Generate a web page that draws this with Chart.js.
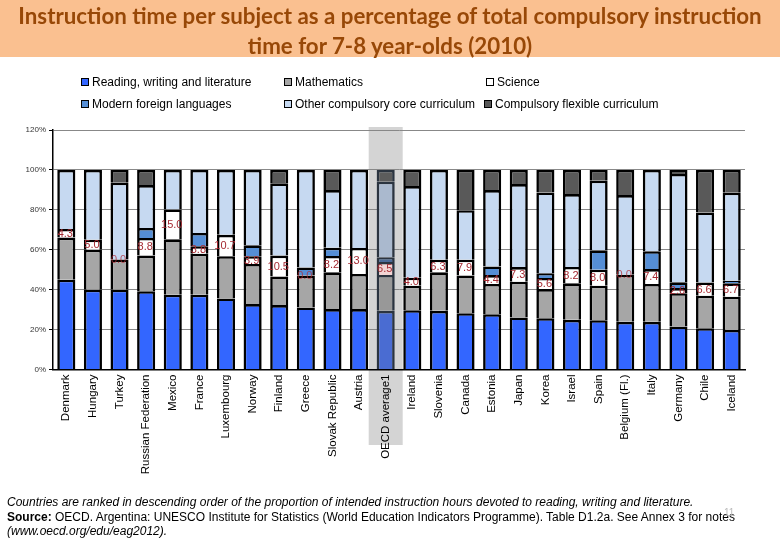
<!DOCTYPE html>
<html><head><meta charset="utf-8">
<script src="https://cdn.jsdelivr.net/npm/chart.js@4"></script>
<style>
html,body{margin:0;padding:0;background:#fff;}
#wrap{position:relative;width:780px;height:540px;overflow:hidden;font-family:"Liberation Sans",Arial,sans-serif;}
#c{position:absolute;left:0;top:0;}
#title{position:absolute;left:0;top:0;width:780px;height:57px;background:#FAC090;color:#984807;font-family:Lato,"Open Sans",sans-serif;font-weight:bold;font-size:22.3px;line-height:30px;text-align:center;}
#title div{white-space:nowrap;}
.lg{position:absolute;font-size:12px;color:#000;white-space:nowrap;line-height:14px;}
.lg span{display:inline-block;width:6px;height:6px;border:1.5px solid #000;margin-right:3px;vertical-align:0px;}
#foot{position:absolute;left:7px;top:495px;font-size:12px;line-height:14.5px;color:#000;white-space:nowrap;}
#pg{position:absolute;left:724px;top:507px;font-size:10px;color:#bbb;}
</style></head>
<body><div id="wrap">
<canvas id="c" width="780" height="540"></canvas>
<div id="title"><div style="padding-top:1px">Instruction time per subject as a percentage of total compulsory instruction</div><div>time for 7-8 year-olds (2010)</div></div>
<div class="lg" style="left:81px;top:75px"><span style="background:#3366FF"></span>Reading, writing and literature</div>
<div class="lg" style="left:284px;top:75px"><span style="background:#A6A6A6"></span>Mathematics</div>
<div class="lg" style="left:486px;top:75px"><span style="background:#FFFFFF"></span>Science</div>
<div class="lg" style="left:81px;top:97px"><span style="background:#558ED5"></span>Modern foreign languages</div>
<div class="lg" style="left:284px;top:97px"><span style="background:#C6D9F1"></span>Other compulsory core curriculum</div>
<div class="lg" style="left:484px;top:97px"><span style="background:#595959"></span>Compulsory flexible curriculum</div>
<div id="foot"><i>Countries are ranked in descending order of the proportion of intended instruction hours devoted to reading, writing and literature.</i><br><b>Source:</b> OECD. Argentina: UNESCO Institute for Statistics (World Education Indicators Programme). Table D1.2a. See Annex 3 for notes<br><i>(www.oecd.org/edu/eag2012).</i></div>
<div id="pg">11</div>
</div>
<script>
const countries = ["Denmark","Hungary","Turkey","Russian Federation","Mexico","France","Luxembourg","Norway","Finland","Greece","Slovak Republic","Austria","OECD average1","Ireland","Slovenia","Canada","Estonia","Japan","Korea","Israel","Spain","Belgium (Fl.)","Italy","Germany","Chile","Iceland"];
const reading   = [45.0,40.0,40.0,39.2,37.5,37.5,35.6,32.8,32.3,31.1,30.3,30.3,29.4,29.7,29.4,28.2,27.7,26.1,25.7,24.9,24.7,23.9,23.9,21.5,20.7,19.8];
const maths     = [21.1,20.0,15.1,17.9,27.7,20.5,21.2,20.1,14.3,16.0,18.4,17.6,18.0,12.3,19.3,18.9,15.2,17.9,14.6,18.3,17.3,23.6,19.0,16.7,16.3,16.7];
const science   = [4.3,5.0,0.0,8.8,15.0,3.8,10.7,3.9,10.5,0.0,8.2,13.0,6.5,4.0,6.3,7.9,4.4,7.3,5.6,8.2,8.0,0.0,7.4,2.6,6.6,6.7];
const languages = [0,0,0,5.0,0,6.6,0,5.4,0,4.0,4.1,0,2.4,0,0,0,4.3,0,2.3,0,9.7,0,9.0,2.9,0,1.3];
const otherCore = [29.6,35.0,38.5,21.5,19.8,31.6,32.5,37.8,36.2,48.9,28.9,39.1,37.8,45.9,45.0,24.8,38.3,41.6,40.5,36.5,34.9,39.9,40.7,54.3,35.1,44.1];
const flexible  = [0,0,6.4,7.6,0,0,0,0,6.7,0,10.1,0,5.9,8.1,0,20.2,10.1,7.1,11.3,12.1,5.4,12.6,0,2.0,21.3,11.4];
const yTicks = [0,20,40,60,80,100,120];

const OECD = countries.indexOf("OECD average1");
function cols(normal, oecd){ return countries.map((c,i)=> i===OECD ? oecd : normal); }
function borders(){ return countries.map((c,i)=> i===OECD ? '#2b3440' : '#000'); }
function ds(label, data, color, oecdColor){
  return {label, data: data.map(v=> v===0 ? null : v), backgroundColor: cols(color, oecdColor), borderColor: borders(), borderWidth: 2.6, borderSkipped:'bottom', barPercentage:0.68, categoryPercentage:1.0};
}

const bandPlugin = {
  id:'band',
  beforeDraw(chart){
    const ctx = chart.ctx;
    ctx.save();
    ctx.fillStyle='#fff'; ctx.fillRect(0,0,chart.width,chart.height);
    const x = chart.scales.x.getPixelForValue(OECD);
    ctx.fillStyle='#D4D4D4';
    ctx.fillRect(x-17,127,34,318);
    ctx.restore();
  }
};
const labelPlugin = {
  id:'sciLabels',
  afterDatasetsDraw(chart){
    const ctx = chart.ctx;
    const ys = chart.scales.y, xs = chart.scales.x;
    ctx.save();
    ctx.font = '11px "Liberation Sans", Arial, sans-serif';
    ctx.textAlign='center'; ctx.textBaseline='middle';
    science.forEach((v,i)=>{
      const base = reading[i]+maths[i];
      const y = ys.getPixelForValue(base + v/2);
      const x = xs.getPixelForValue(i);
      ctx.fillStyle = v===0 ? 'rgba(176,40,50,0.75)' : '#A52A32';
      ctx.fillText(v.toFixed(1), x-1, y+0.5);
    });
    ctx.restore();
  }
};

new Chart(document.getElementById('c'), {
  type:'bar',
  data:{
    labels: countries,
    datasets:[
      ds('Reading, writing and literature', reading, '#3366FF', '#4A6CD2'),
      ds('Mathematics', maths, '#A6A6A6', '#989898'),
      ds('Science', science, '#FFFFFF', '#F2D4D4'),
      ds('Modern foreign languages', languages, '#558ED5', '#4B6A98'),
      ds('Other compulsory core curriculum', otherCore, '#C6D9F1', '#AAB9CE'),
      ds('Compulsory flexible curriculum', flexible, '#595959', '#5C5C5C')
    ]
  },
  options:{
    responsive:false, animation:false, devicePixelRatio:1,
    layout:{padding:{top:130,left:0,right:35,bottom:0}},
    plugins:{legend:{display:false}, tooltip:{enabled:false}, title:{display:false}},
    scales:{
      x:{stacked:true,
         grid:{display:false, drawTicks:false},
         border:{color:'#000', width:1.5},
         ticks:{minRotation:90,maxRotation:90,autoSkip:false,padding:5,color:'#000',font:{family:'"Liberation Sans", Arial, sans-serif',size:11.5}},
         afterFit(s){ s.height = 540-369.5; }
      },
      y:{stacked:true, min:0, max:120,
         afterBuildTicks(s){ s.ticks = yTicks.map(v=>({value:v})); },
         grid:{color:'#888', lineWidth:1, tickLength:4, tickColor:'#000'},
         border:{color:'#000', width:1.5},
         ticks:{padding:3,color:'#333',font:{family:'"Liberation Sans", Arial, sans-serif',size:8},callback:v=>v+'%'},
         afterFit(s){ s.width = 53; }
      }
    }
  },
  plugins:[bandPlugin,labelPlugin]
});
</script>
</body></html>
